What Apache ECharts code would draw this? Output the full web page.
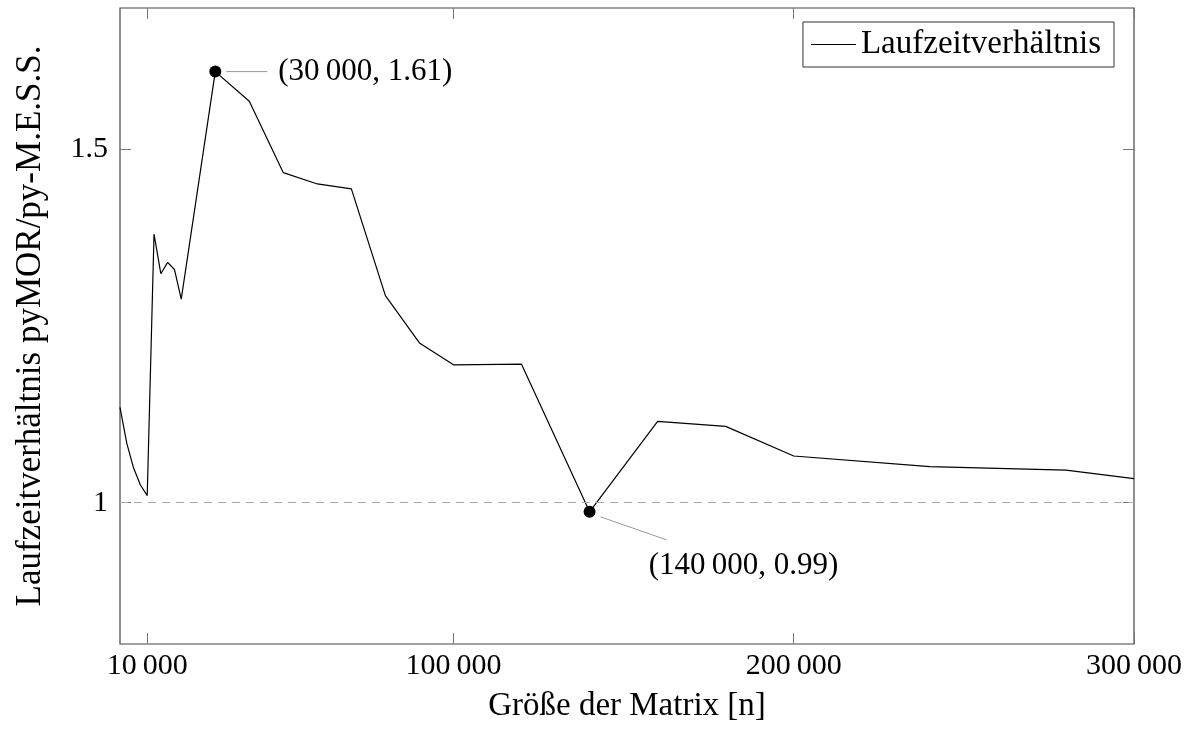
<!DOCTYPE html>
<html>
<head>
<meta charset="utf-8">
<script src="https://cdn.jsdelivr.net/npm/echarts@6.0.0/dist/echarts.min.js"></script>
<style>
  html, body { margin: 0; padding: 0; background: #fff; }
  #chart { width: 1192px; height: 729px; }
</style>
</head>
<body>
<div id="chart"></div>
<script>
// ---- data ----
const matrixSizes = [2000, 4000, 6000, 8000, 10000, 12000, 14000, 16000, 18000, 20000,
  30000, 40000, 50000, 60000, 70000, 80000, 90000, 100000, 120000, 140000,
  160000, 180000, 200000, 240000, 280000, 300000];
const runtimeRatios = [1.135, 1.084, 1.049, 1.025, 1.010, 1.380, 1.324, 1.340, 1.330, 1.288,
  1.610, 1.568, 1.467, 1.451, 1.444, 1.293, 1.226, 1.195, 1.196, 0.987,
  1.115, 1.108, 1.066, 1.051, 1.046, 1.034];
const xTicks = [10000, 100000, 200000, 300000];
const yTicks = [1, 1.5];
const annotX = [30000, 140000];
const annotY = [1.61, 0.987];
const annotText = ['(30\u2009000, 1.61)', '(140\u2009000, 0.99)'];
const seriesName = 'Laufzeitverhältnis';
const xTitle = 'Größe der Matrix [n]';
const yTitle = 'Laufzeitverhältnis pyMOR/py-M.E.S.S.';
const refLine = 1;

const FONT = 'Liberation Serif';
const fmtX = v => String(v).replace(/\B(?=(\d{3})+(?!\d))/g, '\u2009');

const chart = echarts.init(document.getElementById('chart'), null, { renderer: 'canvas' });

const tickStyle = { show: true, inside: true, length: 11, lineStyle: { color: '#777', width: 1 } };

const option = {
  animation: false,
  backgroundColor: '#fff',
  textStyle: { fontFamily: FONT },
  grid: { left: 120, right: 58, top: 8, bottom: 85, show: true, borderColor: '#444', borderWidth: 1.2, backgroundColor: 'transparent' },
  legend: {
    data: [seriesName],
    right: 78, top: 22,
    padding: [6, 13, 6, 8],
    borderColor: '#333', borderWidth: 1,
    icon: 'rect', itemWidth: 45, itemHeight: 1.2,
    textStyle: { fontFamily: FONT, fontSize: 33, color: '#000' }
  },
  xAxis: [{
    type: 'value', min: 2000, max: 300000,
    axisLine: { show: false },
    splitLine: { show: false },
    axisTick: Object.assign({ customValues: xTicks }, tickStyle),
    axisLabel: { customValues: xTicks, formatter: fmtX, fontFamily: FONT, fontSize: 30, color: '#000', margin: 7 },
    name: xTitle, nameLocation: 'middle', nameGap: 46,
    nameTextStyle: { fontFamily: FONT, fontSize: 33, color: '#000' }
  }, {
    type: 'value', min: 2000, max: 300000, position: 'top',
    axisLine: { show: false }, splitLine: { show: false },
    axisTick: Object.assign({ customValues: xTicks }, tickStyle),
    axisLabel: { show: false }
  }],
  yAxis: [{
    type: 'value', min: 0.8, max: 1.7,
    axisLine: { show: false },
    splitLine: { show: false },
    axisTick: Object.assign({ customValues: yTicks }, tickStyle),
    axisLabel: { customValues: yTicks, fontFamily: FONT, fontSize: 30, color: '#000', margin: 12 },
    name: yTitle, nameLocation: 'middle', nameGap: 72, nameRotate: 90,
    nameTextStyle: { fontFamily: FONT, fontSize: 35, color: '#000' }
  }, {
    type: 'value', min: 0.8, max: 1.7, position: 'right',
    axisLine: { show: false }, splitLine: { show: false },
    axisTick: Object.assign({ customValues: yTicks }, tickStyle),
    axisLabel: { show: false }
  }],
  series: [{
    name: seriesName,
    type: 'line',
    data: matrixSizes.map((x, i) => [x, runtimeRatios[i]]),
    showSymbol: false, symbol: 'none',
    lineStyle: { color: '#000', width: 1.2 },
    itemStyle: { color: '#000' },
    markLine: {
      silent: true, symbol: 'none', label: { show: false },
      lineStyle: { color: '#aaa', width: 1, type: [8, 6] },
      data: [{ yAxis: refLine }]
    },
    z: 3
  }, {
    name: 'annot',
    type: 'scatter',
    data: annotX.map((x, i) => [x, annotY[i]]),
    symbol: 'circle', symbolSize: 12,
    itemStyle: { color: '#000', opacity: 1 },
    silent: true,
    z: 5
  }]
};
chart.setOption(option);

// pin lines and annotation labels placed relative to data points converted by the chart
const pinOffsets = [
  { from: [11, 0], to: [52, 0], label: [63, 0], align: 'left' },
  { from: [11, 5], to: [77, 28], label: [154, 54], align: 'center' }
];
const graphics = [];
annotX.forEach((x, i) => {
  const p = chart.convertToPixel({ gridIndex: 0 }, [x, annotY[i]]);
  const o = pinOffsets[i];
  graphics.push({
    type: 'line', silent: true, z: 4,
    shape: { x1: p[0] + o.from[0], y1: p[1] + o.from[1], x2: p[0] + o.to[0], y2: p[1] + o.to[1] },
    style: { stroke: '#999', lineWidth: 1 }
  });
  graphics.push({
    type: 'text', silent: true, z: 6,
    x: p[0] + o.label[0], y: p[1] + o.label[1],
    style: { text: annotText[i], fontFamily: FONT, fontSize: 31, fill: '#000', align: o.align, verticalAlign: 'middle' }
  });
});
chart.setOption({ graphic: graphics });
</script>
</body>
</html>
